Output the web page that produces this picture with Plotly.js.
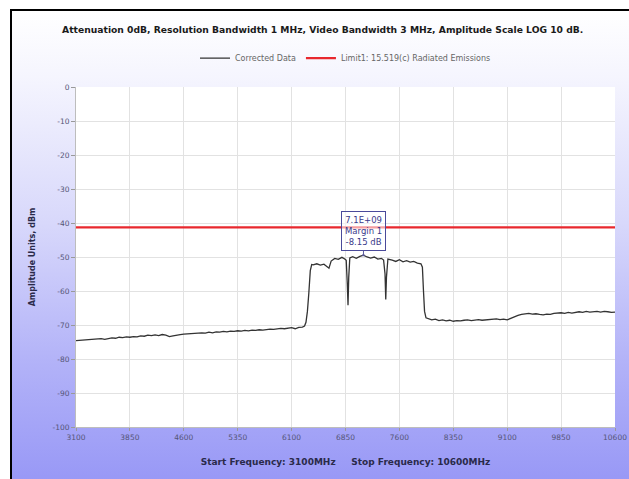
<!DOCTYPE html>
<html>
<head>
<meta charset="utf-8">
<script src="https://cdn.plot.ly/plotly-3.0.1.min.js"></script>
<style>
html,body{margin:0;padding:0;background:#ffffff;width:629px;height:479px;overflow:hidden;}
#frame{position:absolute;left:10px;top:9px;width:619px;height:470px;border-left:2px solid #000;border-top:2px solid #000;
background:linear-gradient(to bottom,#ffffff 0%,#f5f5fe 14%,#d8d8fb 45%,#b2b2f8 75%,#9898f6 100%);}
#chart{position:absolute;left:0;top:0;width:629px;height:479px;}
</style>
</head>
<body>
<div id="frame"></div>
<div id="chart"></div>
<script>
// Frequencies (MHz) of the corrected-data sweep
const freqMHz = [
 3100,3150,3200,3250,3300,3350,3400,3450,3500,3550,3600,3650,3700,3750,3800,3850,3900,3950,4000,4050,
 4100,4150,4200,4250,4300,4350,4400,4450,4500,4550,4600,4650,4700,4750,4800,4850,4900,4950,5000,5050,
 5100,5150,5200,5250,5300,5350,5400,5450,5500,5550,5600,5650,5700,5750,5800,5850,5900,5950,6000,6050,
 6100,6150,6200,6250,6280,6300,6320,6340,6360,6380,6400,6450,6500,6550,6600,6620,6650,6700,6750,6800,
 6840,6860,6875,6885,6895,6910,6950,7000,7050,7100,7150,7200,7250,7300,7350,7380,7400,7410,7420,7440,
 7500,7550,7600,7650,7700,7750,7800,7850,7900,7920,7935,7950,7970,8000,8050,8100,8150,8200,8250,8300,
 8350,8400,8450,8500,8550,8600,8650,8700,8750,8800,8850,8900,8950,9000,9050,9100,9150,9200,9250,9300,
 9350,9400,9450,9500,9550,9600,9650,9700,9750,9800,9850,9900,9950,10000,10050,10100,10150,10200,10250,10300,
 10350,10400,10450,10500,10550,10600
];
// Corrected data amplitude (dBm)
const correctedDbm = [
 -74.6,-74.5,-74.4,-74.5,-74.2,-74.3,-74.1,-74.0,-74.2,-73.9,-73.8,-73.9,-73.6,-73.7,-73.5,-73.6,-73.4,-73.5,-73.2,-73.3,
 -73.0,-73.1,-72.9,-73.1,-72.8,-73.0,-73.4,-73.2,-72.9,-72.8,-72.7,-72.6,-72.7,-72.4,-72.5,-72.3,-72.4,-72.1,-72.3,-72.0,
 -72.1,-71.9,-72.0,-71.8,-71.9,-71.7,-71.8,-71.6,-71.7,-71.5,-71.6,-71.4,-71.5,-71.3,-71.2,-71.3,-71.1,-71.0,-71.1,-70.9,
 -70.8,-71.1,-70.7,-70.6,-70.3,-69.2,-66.0,-60.5,-54.0,-52.2,-52.3,-52.0,-52.4,-52.1,-53.0,-53.3,-51.2,-50.4,-50.7,-50.1,
 -50.6,-51.0,-58.0,-64.2,-56.0,-50.3,-49.9,-50.4,-49.8,-49.45,-50.0,-50.3,-50.0,-50.6,-50.4,-50.9,-55.0,-62.5,-56.0,-50.6,
 -50.9,-51.3,-50.8,-51.4,-51.1,-51.5,-51.3,-51.8,-52.0,-53.0,-60.0,-66.0,-67.9,-68.2,-68.5,-68.3,-68.7,-68.5,-68.8,-68.6,
 -68.9,-68.7,-68.8,-68.6,-68.5,-68.7,-68.5,-68.4,-68.6,-68.5,-68.3,-68.4,-68.2,-68.4,-68.3,-68.5,-68.0,-67.6,-67.2,-66.9,
 -66.7,-66.6,-66.8,-66.7,-66.9,-67.0,-66.8,-66.9,-66.6,-66.5,-66.4,-66.6,-66.3,-66.5,-66.2,-66.1,-66.3,-66.0,-66.2,-66.1,
 -66.0,-66.2,-66.0,-66.1,-66.3,-66.2
];
// Limit line 15.519(c) Radiated Emissions
const limitFreq = [3100, 10600];
const limitDbm = [-41.3, -41.3];
// Marker
const markerFreq = 7100;
const markerDbm = -49.45;
const markerLabel = ["7.1E+09", "Margin 1", "-8.15 dB"];
const xTicks = [3100,3850,4600,5350,6100,6850,7600,8350,9100,9850,10600];
const yTicks = [0,-10,-20,-30,-40,-50,-60,-70,-80,-90,-100];

const traces = [
  {x: freqMHz, y: correctedDbm, type: 'scatter', mode: 'lines', name: 'Corrected Data',
   line: {color: '#333333', width: 1.3}},
  {x: limitFreq, y: limitDbm, type: 'scatter', mode: 'lines', name: 'Limit1: 15.519(c) Radiated Emissions',
   line: {color: '#e8282e', width: 2.2}}
];

const layout = {
  width: 629, height: 479,
  paper_bgcolor: 'rgba(0,0,0,0)',
  plot_bgcolor: '#ffffff',
  margin: {l: 76, r: 14, t: 87, b: 52},
  font: {family: 'DejaVu Sans, sans-serif', color: '#555555', size: 7.5},
  title: {text: '<b>Attenuation 0dB, Resolution Bandwidth 1 MHz, Video Bandwidth 3 MHz, Amplitude Scale LOG 10 dB.</b>',
          font: {family: 'DejaVu Sans, sans-serif', size: 9.2, color: '#1a1a1a'},
          x: 0.513, xanchor: 'center', y: 0.937, yanchor: 'middle'},
  showlegend: true,
  legend: {orientation: 'h', x: 0.5, xanchor: 'center', y: 1.085, yanchor: 'middle',
           font: {size: 8, color: '#666666'}, bgcolor: 'rgba(0,0,0,0)', itemwidth: 30, tracegroupgap: 0},
  xaxis: {range: [3100, 10600], tickvals: xTicks, ticktext: xTicks.map(String),
          showgrid: true, gridcolor: '#e2e2e2', gridwidth: 1, zeroline: false,
          showline: true, linecolor: '#bdbdbd', ticks: 'outside', ticklen: 3, tickcolor: '#999999',
          tickfont: {size: 7.5, color: '#555577'},
          title: {text: '<b>Start Frequency: 3100MHz     Stop Frequency: 10600MHz</b>',
                  font: {size: 9, color: '#2a2a4a'}, standoff: 17}},
  yaxis: {range: [-100, 0], tickvals: yTicks, ticktext: yTicks.map(String),
          showgrid: true, gridcolor: '#e2e2e2', gridwidth: 1, zeroline: false,
          showline: true, linecolor: '#bdbdbd', ticks: 'outside', ticklen: 4, tickcolor: '#999999',
          tickfont: {size: 7.5, color: '#555577'},
          title: {text: '<b>Amplitude Units, dBm</b>', font: {size: 8, color: '#2a2a4a'}, standoff: 15}},
  annotations: [{
    x: markerFreq, y: markerDbm, xref: 'x', yref: 'y',
    text: markerLabel.join('<br>'),
    showarrow: true, arrowhead: 6, arrowsize: 0.6, arrowwidth: 1, arrowcolor: '#5a5a9a',
    ax: 0, ay: -24,
    font: {size: 8.5, color: '#3a3a8a'},
    bordercolor: '#4a4a9a', borderwidth: 1, borderpad: 3,
    bgcolor: 'rgba(255,255,255,0.55)'
  }]
};

Plotly.newPlot('chart', traces, layout, {displayModeBar: false, staticPlot: true});
</script>
</body>
</html>
